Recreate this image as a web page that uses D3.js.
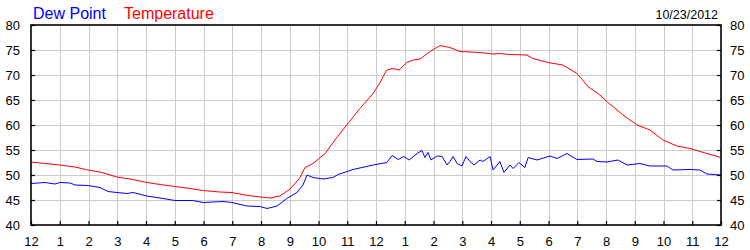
<!DOCTYPE html>
<html><head><meta charset="utf-8">
<script src="https://cdn.jsdelivr.net/npm/d3@7"></script>
<style>body{margin:0;background:#fff}svg{display:block}text{font-family:"Liberation Sans",Arial,sans-serif}</style>
</head><body><svg id="c" width="750" height="250"></svg>
<script>
const dateLabel = "10/23/2012";
const seriesNames = ["Dew Point", "Temperature"];
const seriesColors = ["#0000ff", "#ff0000"];
const hourLabels = [12,1,2,3,4,5,6,7,8,9,10,11,12,1,2,3,4,5,6,7,8,9,10,11,12];
const yTicks = [40,45,50,55,60,65,70,75,80];

const tempHours = [0,0.49,1.01,1.53,1.98,2.40,2.99,3.44,4.03,4.49,5.01,5.53,5.98,6.57,6.99,7.44,7.97,8.31,8.66,9.01,9.36,9.53,9.81,10.23,10.57,10.98,11.44,11.90,12.14,12.37,12.59,12.80,13.07,13.29,13.53,13.88,14.23,14.57,14.92,15.62,16.07,16.31,16.66,17.25,17.46,17.98,18.50,18.99,19.37,19.79,20.03,20.59,21.08,21.53,21.98,22.47,22.92,23.27,24];
const tempValues = [52.6,52.3,52.0,51.6,51.0,50.6,49.6,49.2,48.5,48.1,47.7,47.3,46.9,46.6,46.5,46.0,45.6,45.4,45.8,47.2,49.5,51.5,52.3,54.3,57,60,63.3,66.3,68.5,71,71.3,71,72.5,73,73.2,74.7,75.9,75.5,74.7,74.5,74.2,74.3,74.1,74,73.3,72.5,72,70.3,67.7,66,64.7,62,60,59,57,55.8,55.3,54.7,53.5];

const dewHours = [0,0.49,0.83,1.01,1.36,1.53,1.98,2.40,2.68,2.99,3.34,3.55,4.03,4.59,5.01,5.63,5.98,6.68,6.99,7.51,7.97,8.21,8.56,8.90,9.25,9.46,9.60,9.81,10.16,10.50,10.68,11.20,11.90,12.38,12.56,12.77,12.97,13.15,13.43,13.60,13.70,13.81,13.91,14.12,14.30,14.47,14.57,14.68,14.82,14.99,15.13,15.27,15.41,15.62,15.72,15.97,16.07,16.31,16.45,16.66,16.77,16.97,17.18,17.29,17.60,18.05,18.30,18.64,18.99,19.55,19.69,20.03,20.42,20.73,21.18,21.53,22.12,22.33,22.92,23.27,23.51,24];
const dewValues = [48.3,48.5,48.2,48.5,48.4,48.0,47.9,47.5,46.7,46.5,46.3,46.5,45.8,45.3,44.9,44.9,44.5,44.7,44.5,43.8,43.7,43.3,43.8,45.3,46.5,48,50,49.5,49.2,49.5,50.1,51.1,52,52.5,53.9,53.1,53.7,53,54.3,54.9,53.5,54.5,53,53.8,53.7,52,52.7,53.7,52.3,51.8,53.7,52.7,52,53,52.7,53.7,51,52.7,50.5,52,51.3,52.5,51.5,53.5,53,53.8,53.3,54.3,53.1,53.2,52.7,52.6,53,52,52.3,51.8,51.8,51,51.1,51,50.2,50];

const L = 31, R = 721, T = 25, B = 225;
const svg = d3.select("#c");
const x = d3.scaleLinear().domain([0,24]).range([L,R]);
const y = d3.scaleLinear().domain([40,80]).range([B,T]);
const hours = d3.range(0,25);

// grid
svg.append("g").selectAll("line").data(hours.slice(1,-1)).join("line")
  .attr("x1",d=>Math.round(x(d))+0.5).attr("x2",d=>Math.round(x(d))+0.5)
  .attr("y1",T).attr("y2",B).attr("stroke","#cccccc").attr("stroke-width",1);
svg.append("g").selectAll("line").data(yTicks.slice(1,-1)).join("line")
  .attr("y1",d=>Math.round(y(d))+0.5).attr("y2",d=>Math.round(y(d))+0.5)
  .attr("x1",L).attr("x2",R).attr("stroke","#cccccc").attr("stroke-width",1);

// lines
const line = d3.line().x(d=>x(d[0])).y(d=>y(d[1]));
svg.append("path").datum(d3.zip(dewHours,dewValues)).attr("d",line)
  .attr("fill","none").attr("stroke",seriesColors[0]).attr("stroke-width",1);
svg.append("path").datum(d3.zip(tempHours,tempValues)).attr("d",line)
  .attr("fill","none").attr("stroke",seriesColors[1]).attr("stroke-width",1);

// frame
svg.append("rect").attr("x",L).attr("y",T).attr("width",R-L).attr("height",B-T)
  .attr("fill","none").attr("stroke","#000").attr("stroke-width",1.6);

// axes
const bottom = d3.axisBottom(x).tickValues(hours).tickSize(-4).tickPadding(12)
  .tickFormat((d,i)=>hourLabels[i]);
const gb = svg.append("g").attr("transform",`translate(0,${B})`).call(bottom);
const left = d3.axisLeft(y).tickValues(yTicks).tickSize(-4).tickPadding(11);
const gl = svg.append("g").attr("transform",`translate(${L},0)`).call(left);
const right = d3.axisRight(y).tickValues(yTicks).tickSize(-4).tickPadding(9);
const gr = svg.append("g").attr("transform",`translate(${R},0)`).call(right);
[gb,gl,gr].forEach(g=>{
  g.select(".domain").remove();
  g.selectAll(".tick line").attr("stroke","#000").attr("stroke-width",1.2);
  g.selectAll("text").attr("fill","#000").style("font-size","13px")
   .style("font-family",'"Liberation Sans",Arial,sans-serif');
});

// legend
svg.append("text").attr("x",33).attr("y",19).attr("fill",seriesColors[0])
  .style("font-size","16px").text(seriesNames[0]);
svg.append("text").attr("x",124).attr("y",19).attr("fill",seriesColors[1])
  .style("font-size","16px").text(seriesNames[1]);
svg.append("text").attr("x",718).attr("y",18.5).attr("text-anchor","end").attr("fill","#000")
  .style("font-size","12.5px").text(dateLabel);
</script></body></html>
